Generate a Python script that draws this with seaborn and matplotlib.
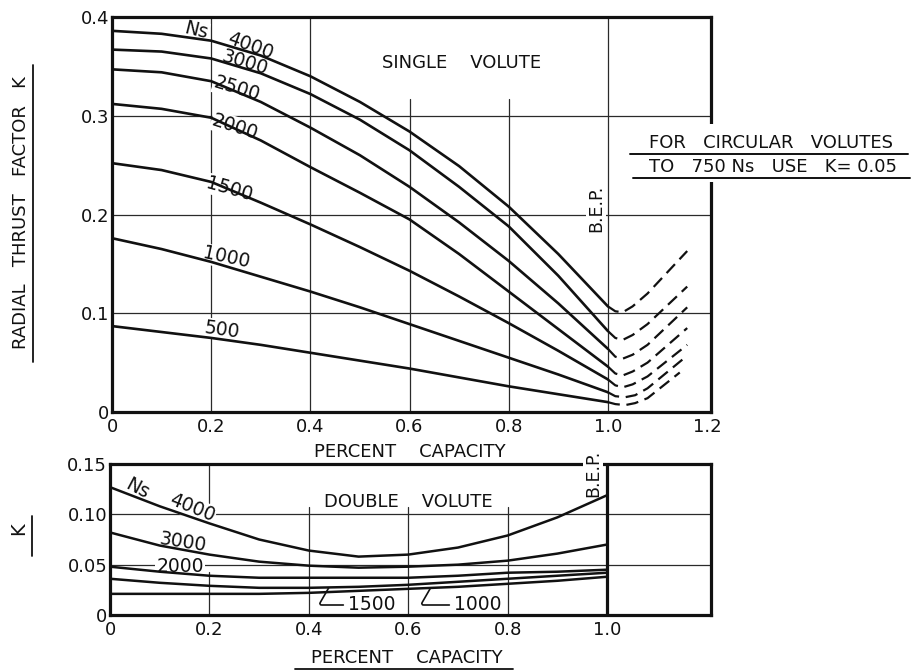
import matplotlib
matplotlib.use("Agg")
import matplotlib.pyplot as plt
from matplotlib.lines import Line2D
from matplotlib.patches import Rectangle
import pandas as pd
import seaborn as sns

W, H = 911, 671

# ---- single volute: K versus percent capacity, up to B.E.P. ----
capacity = [0.0, 0.1, 0.2, 0.3, 0.4, 0.5, 0.6, 0.7, 0.8, 0.9, 1.0]
single_4000 = [0.386, 0.383, 0.376, 0.361, 0.340, 0.314, 0.284, 0.249, 0.208, 0.160, 0.107]
single_3000 = [0.367, 0.365, 0.358, 0.343, 0.322, 0.296, 0.265, 0.228, 0.188, 0.138, 0.082]
single_2500 = [0.347, 0.344, 0.335, 0.314, 0.288, 0.260, 0.228, 0.192, 0.153, 0.110, 0.064]
single_2000 = [0.312, 0.307, 0.298, 0.275, 0.248, 0.222, 0.195, 0.160, 0.122, 0.084, 0.046]
single_1500 = [0.252, 0.245, 0.233, 0.212, 0.190, 0.167, 0.143, 0.117, 0.090, 0.062, 0.033]
single_1000 = [0.176, 0.165, 0.152, 0.137, 0.122, 0.106, 0.089, 0.072, 0.055, 0.038, 0.020]
single_500 = [0.087, 0.081, 0.075, 0.068, 0.060, 0.052, 0.044, 0.035, 0.026, 0.018, 0.010]

# ---- single volute beyond B.E.P. (dashed) ----
over_x_long = [1.0, 1.015, 1.03, 1.05, 1.08, 1.16]
over_x_mid = [1.0, 1.015, 1.035, 1.055, 1.08, 1.155]
over_x_short = [1.0, 1.015, 1.035, 1.055, 1.08, 1.145]
over_4000 = [0.107, 0.102, 0.101, 0.107, 0.120, 0.163]
over_3000 = [0.082, 0.075, 0.073, 0.078, 0.089, 0.127]
over_2500 = [0.064, 0.056, 0.054, 0.058, 0.068, 0.106]
over_2000 = [0.046, 0.039, 0.037, 0.041, 0.050, 0.085]
over_1500 = [0.033, 0.027, 0.025, 0.028, 0.036, 0.068]
over_1000 = [0.020, 0.016, 0.015, 0.017, 0.024, 0.055]
over_500 = [0.010, 0.008, 0.007, 0.009, 0.014, 0.040]

# ---- double volute ----
double_4000 = [0.127, 0.108, 0.091, 0.075, 0.064, 0.058, 0.060, 0.067, 0.079, 0.097, 0.119]
double_3000 = [0.082, 0.069, 0.060, 0.053, 0.049, 0.047, 0.048, 0.050, 0.054, 0.061, 0.070]
double_2000 = [0.048, 0.043, 0.039, 0.037, 0.037, 0.037, 0.037, 0.039, 0.042, 0.043, 0.045]
double_1500 = [0.036, 0.032, 0.029, 0.027, 0.027, 0.028, 0.030, 0.033, 0.036, 0.039, 0.042]
double_1000 = [0.021, 0.021, 0.021, 0.021, 0.022, 0.024, 0.026, 0.028, 0.031, 0.034, 0.038]

top_xticks = [0, 0.2, 0.4, 0.6, 0.8, 1.0, 1.2]
top_xlabels = ["0", "0.2", "0.4", "0.6", "0.8", "1.0", "1.2"]
top_yticks = [0, 0.1, 0.2, 0.3, 0.4]
top_ylabels = ["0", "0.1", "0.2", "0.3", "0.4"]
bot_xticks = [0, 0.2, 0.4, 0.6, 0.8, 1.0]
bot_xlabels = ["0", "0.2", "0.4", "0.6", "0.8", "1.0"]
bot_yticks = [0, 0.05, 0.10, 0.15]
bot_ylabels = ["0", "0.05", "0.10", "0.15"]


def long_form(pairs):
    frames = []
    for ns, xs, ks in pairs:
        frames.append(pd.DataFrame({"capacity": xs, "K": ks, "Ns": ns}))
    return pd.concat(frames, ignore_index=True)


single_df = long_form([
    (4000, capacity, single_4000), (3000, capacity, single_3000),
    (2500, capacity, single_2500), (2000, capacity, single_2000),
    (1500, capacity, single_1500), (1000, capacity, single_1000),
    (500, capacity, single_500)])
over_df = long_form([
    (4000, over_x_long, over_4000), (3000, over_x_long, over_3000),
    (2500, over_x_long, over_2500), (2000, over_x_long, over_2000),
    (1500, over_x_long, over_1500), (1000, over_x_mid, over_1000),
    (500, over_x_short, over_500)])
double_df = long_form([
    (4000, capacity, double_4000), (3000, capacity, double_3000),
    (2000, capacity, double_2000), (1500, capacity, double_1500),
    (1000, capacity, double_1000)])

sns.set_style("white")
plt.rcParams["font.family"] = ["DejaVu Sans"]

INK = "#111111"
GRID = "#2a2a2a"
FS = 13

fig = plt.figure(figsize=(W / 100, H / 100), dpi=100)
ax1 = fig.add_axes([112 / W, 1 - 412 / H, (711 - 112) / W, (412 - 17) / H])
ax2 = fig.add_axes([110 / W, 1 - 615 / H, (711 - 110) / W, (615 - 464) / H])


def fpos(px, py):
    return px / W, 1 - py / H


def style_axes(ax, xlim, ylim, xt, xl, yt, yl):
    ax.set_xlim(*xlim)
    ax.set_ylim(*ylim)
    ax.set_xticks(xt)
    ax.set_xticklabels(xl, fontsize=FS, color=INK)
    ax.set_yticks(yt)
    ax.set_yticklabels(yl, fontsize=FS, color=INK)
    ax.tick_params(length=0, pad=4)
    ax.tick_params(axis="y", pad=2)
    for sp in ax.spines.values():
        sp.set_visible(True)
        sp.set_color(INK)
        sp.set_linewidth(2.3)
    ax.set_xlabel("")
    ax.set_ylabel("")
    ax.grid(False)


def label(ax, s, px, py, rot=0, fs=13.5, box=True, z=2, **kw):
    x, y = fpos(px, py)
    bbox = dict(boxstyle="square,pad=0.05", fc="white", ec="none") if box else None
    ax.text(x, y, s, transform=fig.transFigure, rotation=rot, rotation_mode="anchor",
            ha="center", va="center", fontsize=fs, color=INK, bbox=bbox, zorder=z, **kw)


# ---------------- single volute panel ----------------
style_axes(ax1, (0, 1.208), (0, 0.4), top_xticks, top_xlabels, top_yticks, top_ylabels)
gkw = dict(color=GRID, lw=0.9, zorder=1)
for yv in (0.1, 0.2, 0.3):
    ax1.axhline(yv, **gkw)
ax1.axvline(0.2, **gkw)
ax1.axvline(0.4, **gkw)
ax1.axvline(0.6, ymax=0.317 / 0.4, **gkw)
ax1.axvline(0.8, ymax=0.317 / 0.4, **gkw)
ax1.axvline(1.0, **gkw)

sns.lineplot(data=single_df, x="capacity", y="K", units="Ns", estimator=None,
             sort=False, color=INK, lw=1.9, ax=ax1, zorder=3, legend=False)
sns.lineplot(data=over_df, x="capacity", y="K", units="Ns", estimator=None,
             sort=False, color=INK, lw=1.6, linestyle=(0, (5.5, 3)), ax=ax1,
             zorder=3, legend=False)
ax1.set_xlabel("")
ax1.set_ylabel("")

for s, px, py, rot in [("Ns", 196, 31, -14), ("4000", 250, 46, -20),
                       ("3000", 245, 63, -17), ("2500", 237, 89, -17),
                       ("2000", 235, 127, -18), ("1500", 229, 189, -16),
                       ("1000", 226, 258, -12), ("500", 222, 330, -8)]:
    label(ax1, s, px, py, rot)

label(ax1, "SINGLE    VOLUTE", 462, 63, fs=13, box=False)
label(ax1, "B.E.P.", 596, 208, rot=90, fs=12.5, z=1.5)

# ---------------- double volute panel ----------------
style_axes(ax2, (0, 1.209), (0, 0.15), bot_xticks, bot_xlabels, bot_yticks, bot_ylabels)
for yv in (0.05, 0.10):
    ax2.axhline(yv, **gkw)
ax2.axvline(0.2, ymin=0.111 / 0.15, **gkw)
ax2.axvline(0.2, ymax=0.043 / 0.15, **gkw)
for xv in (0.4, 0.6, 0.8):
    ax2.axvline(xv, ymax=0.107 / 0.15, **gkw)
ax2.axvline(1.0, color=INK, lw=2.3, zorder=2.4)

sns.lineplot(data=double_df, x="capacity", y="K", units="Ns", estimator=None,
             sort=False, color=INK, lw=1.8, ax=ax2, zorder=3, legend=False)
ax2.set_xlabel("")
ax2.set_ylabel("")

for s, px, py, rot in [("Ns", 137, 489, -28), ("4000", 192, 508, -22),
                       ("3000", 183, 542, -9), ("2000", 180, 567, 0)]:
    label(ax2, s, px, py, rot)
label(ax2, "DOUBLE    VOLUTE", 408, 502, fs=13, box=False)
label(ax2, "B.E.P.", 593, 473, rot=90, fs=12.5, z=2.6)

for s, xy, txt in [("1500", (0.44, 0.027), (348, 605)), ("1000", (0.645, 0.027), (454, 605))]:
    ax2.annotate(s, xy=xy, xycoords="data", xytext=fpos(*txt), textcoords="figure fraction",
                 ha="left", va="center", fontsize=13.5, color=INK, zorder=4,
                 arrowprops=dict(arrowstyle="-", color=INK, lw=1.2, relpos=(0, 0.5),
                                 shrinkA=1, shrinkB=0,
                                 connectionstyle="angle,angleA=0,angleB=60,rad=3"))

# ---------------- axis titles ----------------
fig.text(*fpos(21, 213), "RADIAL   THRUST   FACTOR   K", rotation=90, ha="center",
         va="center", fontsize=13, color=INK)
fig.add_artist(Line2D([33 / W, 33 / W], [1 - 65 / H, 1 - 362 / H], color=INK, lw=1.3))
fig.text(*fpos(19, 529), "K", rotation=90, ha="center", va="center", fontsize=14, color=INK)
fig.add_artist(Line2D([32 / W, 32 / W], [1 - 516 / H, 1 - 556 / H], color=INK, lw=1.3))

fig.text(*fpos(410, 452), "PERCENT    CAPACITY", ha="center", va="center", fontsize=13, color=INK)
fig.text(*fpos(407, 658), "PERCENT    CAPACITY", ha="center", va="center", fontsize=13, color=INK)
fig.add_artist(Line2D([295 / W, 513 / W], [1 - 669 / H, 1 - 669 / H], color=INK, lw=1.3))

# ---------------- circular volute note ----------------
fig.add_artist(Rectangle((628 / W, 1 - 182 / H), (911 - 628) / W, (182 - 124) / H,
                         transform=fig.transFigure, fc="white", ec="none", zorder=5))
fig.text(*fpos(771, 143), "FOR   CIRCULAR   VOLUTES", ha="center", va="center",
         fontsize=13, color=INK, zorder=6)
fig.text(*fpos(773, 167), "TO   750 Ns   USE   K= 0.05", ha="center", va="center",
         fontsize=13, color=INK, zorder=6)
for yl, x0, x1 in [(154, 630, 908), (178, 633, 910)]:
    fig.add_artist(Line2D([x0 / W, x1 / W], [1 - yl / H, 1 - yl / H], color=INK, lw=1.4,
                          zorder=6))

fig.savefig("out.png", dpi=100, facecolor="white")
